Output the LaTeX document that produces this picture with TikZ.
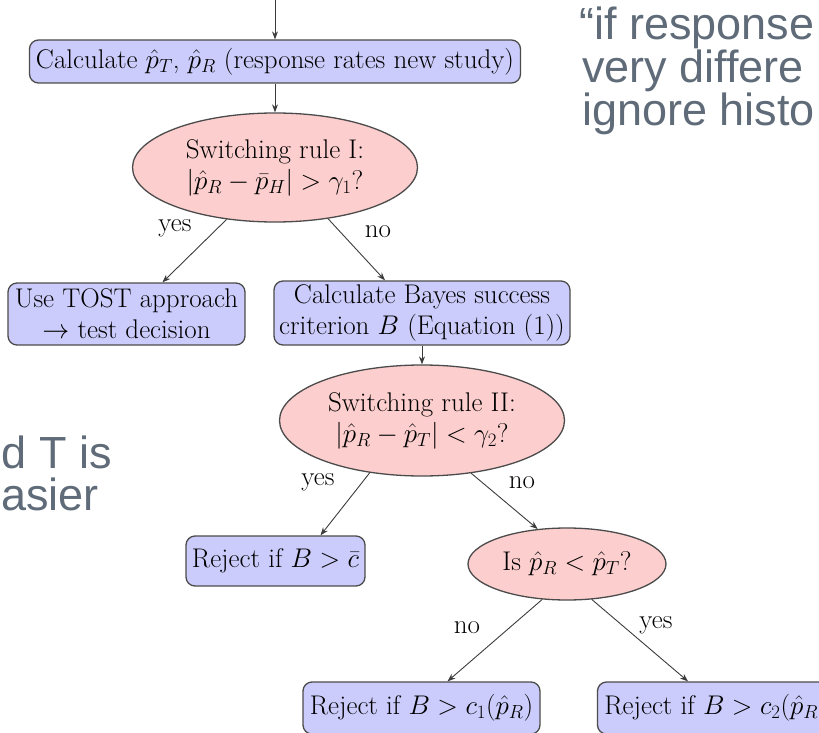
\RequirePackage{fix-cm}
\documentclass[tikz,border=0pt]{standalone}
\usepackage{fontspec}
\usetikzlibrary{shapes.geometric,arrows.meta,calc}
\newfontfamily\slidefont{Liberation Sans}
\newcommand{\dfont}{\fontsize{27}{31}\selectfont}
\newcommand{\sfnt}{\slidefont\fontsize{45}{45}\selectfont}
\definecolor{slidegray}{RGB}{95,107,120}
\definecolor{boxfill}{RGB}{204,204,252}
\definecolor{ellfill}{RGB}{252,206,206}
\definecolor{edgecol}{RGB}{75,75,75}
\definecolor{arrcol}{RGB}{60,60,60}
\tikzset{
  proc/.style={draw=edgecol, line width=1.3pt, fill=boxfill, rounded corners=9pt, align=center, inner sep=0pt, font=\dfont},
  dec/.style={ellipse, draw=edgecol, line width=1.3pt, fill=ellfill, align=center, inner sep=0pt, font=\dfont},
  conn/.style={draw=arrcol, line width=0.9pt, -{Stealth[length=8pt,width=6pt]}},
  lbl/.style={font=\dfont, inner sep=0pt},
  slide/.style={font=\sfnt, text=slidegray, inner sep=0pt}
}
\begin{document}
\begin{tikzpicture}[x=1pt,y=-1pt]
\path[use as bounding box] (0,0) rectangle (819,733);
\begin{scope}
\clip (0,0) rectangle (819,733);
% slide text
\node[slide, anchor=base west] (s1) at (579,40) {“if response};
\node[slide, anchor=base west] (s2) at (582,83) {very differe};
\node[slide, anchor=base west] (s3) at (582,126) {ignore histo};
\node[slide, anchor=base east] (s4) at (112,468) {d T is};
\node[slide, anchor=base east] (s5) at (99,510) {asier};
% nodes
\node[proc, minimum width=491pt, minimum height=43pt] (b1) at (275,61.5) {Calculate $\hat p_T$, $\hat p_R$ (response rates new study)};
\node[dec, minimum width=285pt, minimum height=109pt] (e1) at (275,167.5) {Switching rule I:\\$|\hat p_R-\bar p_H|>\gamma_1$?};
\node[proc, minimum width=237pt, minimum height=62pt] (tost) at (126.5,314) {Use TOST approach\\$\rightarrow$ test decision};
\node[proc, minimum width=296pt, minimum height=64pt] (bayes) at (422,313) {Calculate Bayes success\\criterion $B$ (Equation (1))};
\node[dec, minimum width=285pt, minimum height=111pt] (e2) at (422,420.5) {Switching rule II:\\$|\hat p_R-\hat p_T|<\gamma_2$?};
\node[proc, minimum width=179pt, minimum height=50pt] (cbar) at (275.5,561) {Reject if $B>\bar c$};
\node[dec, minimum width=198pt, minimum height=72pt] (e3) at (567,564) {Is $\hat p_R<\hat p_T$?};
\node[proc, minimum width=237pt, minimum height=52pt] (c1) at (421.5,708) {Reject if $B>c_1(\hat p_R)$};
\node[proc, minimum width=237pt, minimum height=52pt] (c2) at (716,708) {Reject if $B>c_2(\hat p_R)$};
% connectors
\coordinate (top) at (275,0);
\draw[conn] (top) -- (b1.north);
\draw[conn] (b1.south) -- (e1.north);
\draw[conn] (e1.227) -- ([xshift=36pt]tost.north);
\draw[conn] (e1.-44) -- ([xshift=-37pt]bayes.north);
\draw[conn] (bayes.south) -- (e2.north);
\draw[conn] (e2.225) -- ([xshift=45pt]cbar.north);
\draw[conn] (e2.-47) -- (e3.130);
\draw[conn] (e3.235) -- ([xshift=26pt]c1.north);
\draw[conn] (e3.-55) -- ([xshift=-28pt]c2.north);
% labels
\node[lbl] (l1) at (175,228) {yes};
\node[lbl] (l2) at (378,232) {no};
\node[lbl] (l3) at (318,482) {yes};
\node[lbl] (l4) at (522,483) {no};
\node[lbl] (l5) at (467,628) {no};
\node[lbl] (l6) at (656,625) {yes};
\end{scope}
\end{tikzpicture}
\end{document}
